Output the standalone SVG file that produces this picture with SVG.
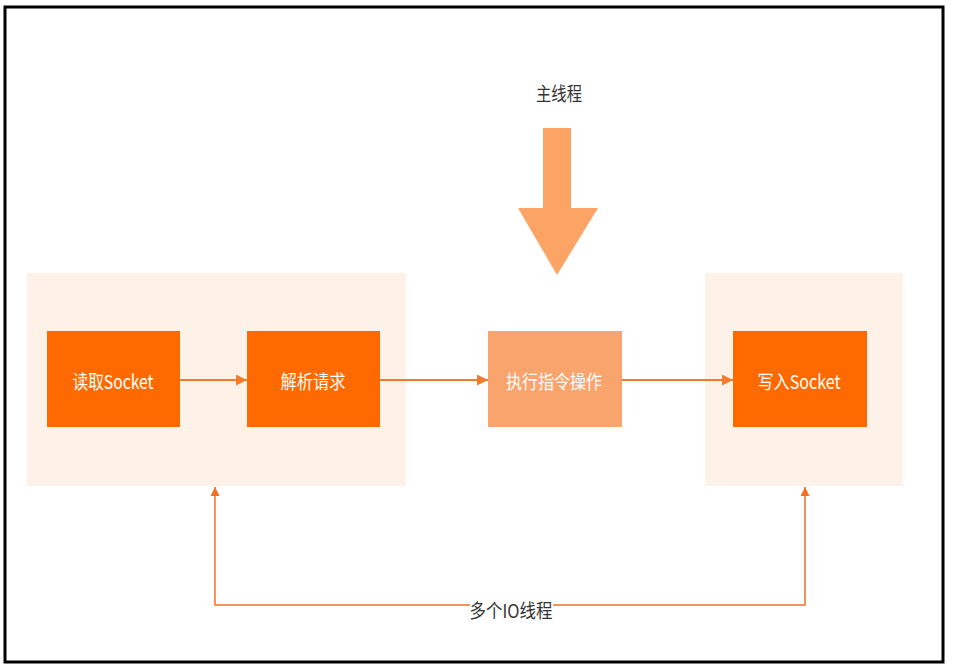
<svg xmlns="http://www.w3.org/2000/svg" width="956" height="667" viewBox="0 0 956 667">
<defs>
<style>
.frame{fill:#fff;stroke:#000;stroke-width:3}
.group{fill:#FEF1E7}
.dark{fill:#FF6A00}
.light{fill:#F9A46C}
.lbl{font-family:"Noto Sans CJK SC","Liberation Sans",sans-serif;font-size:19px;fill:#fff;text-anchor:middle;dominant-baseline:central}
.cap{font-family:"Noto Sans CJK SC","Liberation Sans",sans-serif;font-size:19px;fill:#333;text-anchor:middle;dominant-baseline:central}
.line{fill:none;stroke:#F47A2C;stroke-width:2}
.line2{fill:none;stroke:#F6925A;stroke-width:2}
</style>
<marker id="ah" viewBox="0 0 10 10" refX="10" refY="5" markerWidth="13" markerHeight="11" markerUnits="userSpaceOnUse" orient="auto">
<path d="M0,0 L10,5 L0,10 z" fill="#F47A2C"/>
</marker>
<marker id="ah2" viewBox="0 0 10 10" refX="10" refY="5" markerWidth="13" markerHeight="9" markerUnits="userSpaceOnUse" orient="auto">
<path d="M0,0 L10,5 L0,10 z" fill="#F4701E"/>
</marker>
</defs>
<rect class="frame" x="5" y="7" width="938" height="655"/>
<g id="group-left"><rect class="group" x="27" y="273" width="379" height="213"/></g>
<g id="group-right"><rect class="group" x="705" y="273" width="198" height="213"/></g>
<g id="main-thread">
<text class="cap" x="559" y="92" textLength="46" lengthAdjust="spacingAndGlyphs">主线程</text>
<path d="M543,128 L571,128 L571,208 L598,208 L557,275 L518,208 L543,208 Z" fill="#FCA466"/>
</g>
<g id="node-read"><rect class="dark" x="47" y="331" width="133" height="96"/><text class="lbl" x="113" y="380" textLength="81" lengthAdjust="spacingAndGlyphs">读取Socket</text></g>
<g id="node-parse"><rect class="dark" x="247" y="331" width="133" height="96"/><text class="lbl" x="313" y="380" textLength="65" lengthAdjust="spacingAndGlyphs">解析请求</text></g>
<g id="node-exec"><rect class="light" x="488" y="331" width="134" height="96"/><text class="lbl" x="554" y="380" textLength="96" lengthAdjust="spacingAndGlyphs">执行指令操作</text></g>
<g id="node-write"><rect class="dark" x="733" y="331" width="134" height="96"/><text class="lbl" x="799" y="380" textLength="83" lengthAdjust="spacingAndGlyphs">写入Socket</text></g>
<g id="connectors">
<line class="line" x1="180" y1="380" x2="247" y2="380" marker-end="url(#ah)"/>
<line class="line" x1="380" y1="380" x2="488" y2="380" marker-end="url(#ah)"/>
<line class="line" x1="622" y1="380" x2="733" y2="380" marker-end="url(#ah)"/>
<polyline class="line2" points="470,605 215,605 215,487" marker-end="url(#ah2)"/>
<polyline class="line2" points="553,605 805,605 805,487" marker-end="url(#ah2)"/>
<text class="cap" x="511" y="609" textLength="83" lengthAdjust="spacingAndGlyphs">多个IO线程</text>
</g>
</svg>
